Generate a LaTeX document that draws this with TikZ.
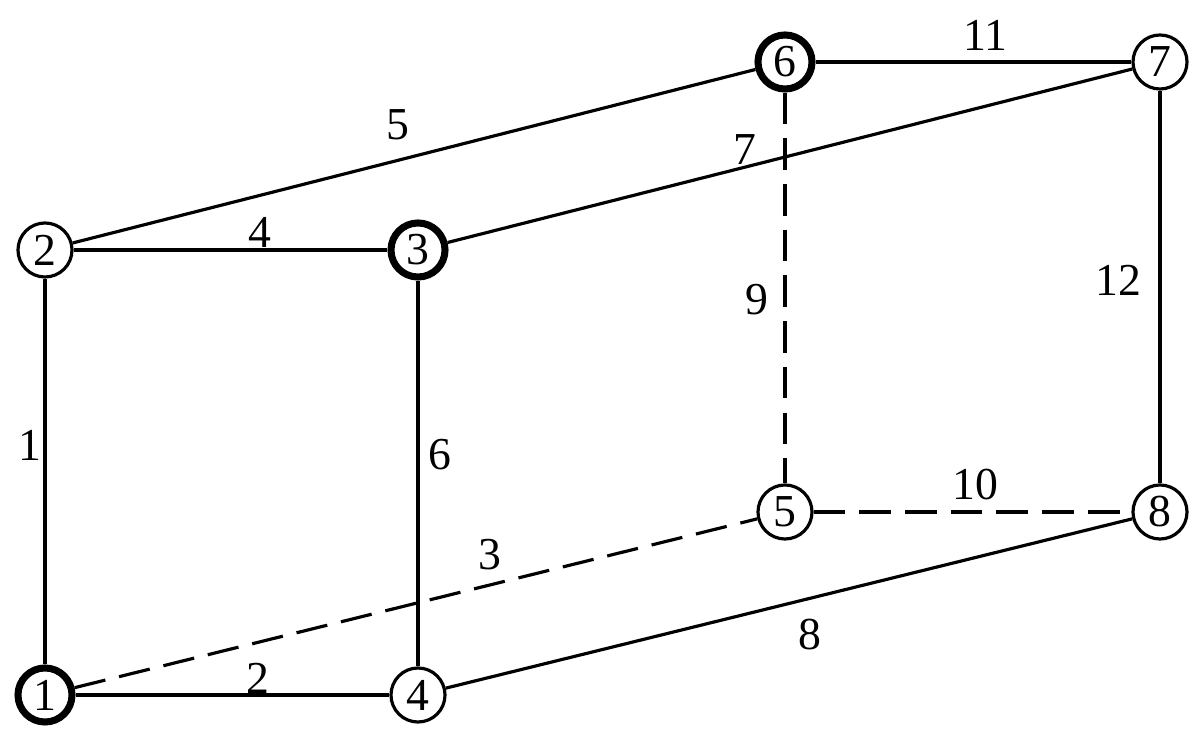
\documentclass[tikz,border=0pt]{standalone}
\usepackage{fontspec}
\setmainfont{Liberation Serif}
\begin{document}
\begin{tikzpicture}[x=0.01cm,y=-0.01cm,
  nd/.style={circle,draw,line width=0.9pt,minimum size=0.54cm,inner sep=0pt,fill=white,font=\fontsize{13}{15}\selectfont},
  thk/.style={line width=2pt},
  lab/.style={font=\fontsize{13}{15}\selectfont},
  ed/.style={line width=0.9pt},
  dsh/.style={line width=0.9pt,dash pattern=on 9pt off 4pt}]
\useasboundingbox (0,0) rectangle (1200,734);
\node[nd,thk] (n1) at (45,695) {1};
\node[nd] (n2) at (45,250) {2};
\node[nd,thk] (n3) at (418,250) {3};
\node[nd] (n4) at (418,695) {4};
\node[nd] (n5) at (785,512) {5};
\node[nd,thk] (n6) at (785,62) {6};
\node[nd] (n7) at (1160,62) {7};
\node[nd] (n8) at (1160,512) {8};
\draw[ed] (n1)--(n2); \draw[ed] (n1)--(n4); \draw[dsh] (n1)--(n5);
\draw[ed] (n2)--(n3); \draw[ed] (n2)--(n6); \draw[ed] (n3)--(n4);
\draw[ed] (n3)--(n7); \draw[ed] (n4)--(n8); \draw[dsh] (n6)--(n5);
\draw[dsh] (n5)--(n8); \draw[ed] (n6)--(n7); \draw[ed] (n7)--(n8);
\node[lab] (l1) at (30,445) {1};
\node[lab] (l2) at (258,678) {2};
\node[lab] (l3) at (490,555) {3};
\node[lab] (l4) at (260,232) {4};
\node[lab] (l5) at (398,125) {5};
\node[lab] (l6) at (440,455) {6};
\node[lab] (l7) at (745,150) {7};
\node[lab] (l8) at (810,635) {8};
\node[lab] (l9) at (757,300) {9};
\node[lab] (l10) at (975,485) {10};
\node[lab] (l11) at (985,35) {11};
\node[lab] (l12) at (1118,280) {12};
\end{tikzpicture}
\end{document}
